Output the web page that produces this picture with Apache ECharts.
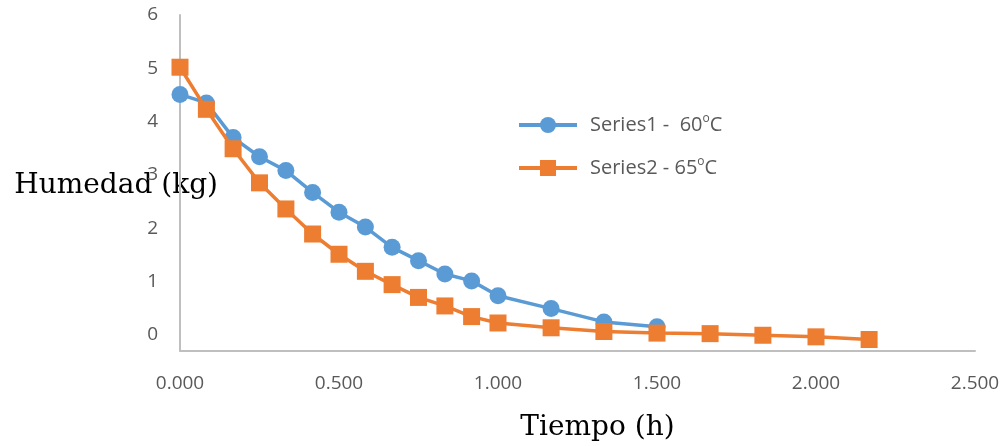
<!DOCTYPE html>
<html>
<head>
<meta charset="utf-8">
<script src="https://cdn.jsdelivr.net/npm/echarts@6/dist/echarts.min.js"></script>
<style>
html,body{margin:0;padding:0;background:#fff;}
#chart{width:1004px;height:446px;}
</style>
</head>
<body>
<div id="chart"></div>
<script>
// Data
const time60 = [0, 0.083, 0.167, 0.25, 0.333, 0.417, 0.5, 0.583, 0.667, 0.75, 0.833, 0.917, 1.0, 1.167, 1.333, 1.5];
const hum60  = [4.51, 4.35, 3.70, 3.34, 3.08, 2.67, 2.30, 2.02, 1.64, 1.39, 1.14, 1.01, 0.73, 0.49, 0.24, 0.15];
const time65 = [0, 0.083, 0.167, 0.25, 0.333, 0.417, 0.5, 0.583, 0.667, 0.75, 0.833, 0.917, 1.0, 1.167, 1.333, 1.5, 1.667, 1.833, 2.0, 2.167];
const hum65  = [5.02, 4.23, 3.49, 2.85, 2.36, 1.89, 1.51, 1.19, 0.94, 0.70, 0.54, 0.34, 0.22, 0.13, 0.06, 0.03, 0.02, -0.01, -0.04, -0.09];
const seriesNames = ['Series1 -  60oC', 'Series2 - 65oC'];
const yTickValues = [0, 1, 2, 3, 4, 5, 6];
const xTitle = 'Tiempo (h)';
const yTitle = 'Humedad (kg)';

const zip = (xs, ys) => xs.map((x, i) => [x, ys[i]]);

const chart = echarts.init(document.getElementById('chart'), null, {renderer: 'canvas'});
const axisLineStyle = {color: '#BFBFBF', width: 2};
chart.setOption({
  animation: false,
  grid: {left: 180, right: 29, top: 15, bottom: 95.3, containLabel: false, outerBoundsMode: 'none'},
  legend: {
    orient: 'vertical',
    left: 512,
    top: 108,
    itemWidth: 58,
    itemHeight: 20,
    itemGap: 21,
    lineStyle: {width: 4},
    formatter: function (name) {
      const base = name.slice(0, -2);
      return '{n|' + base + '}{s|o}{n|C}';
    },
    textStyle: {
      padding: [0, 0, 0, 8],
      rich: {
        n: {fontFamily: 'Open Sans', fontSize: 20, color: '#595959', lineHeight: 24, verticalAlign: 'middle'},
        s: {fontFamily: 'Open Sans', fontSize: 12, color: '#595959', lineHeight: 24, verticalAlign: 'top', padding: [0, 0, 6, 0]}
      }
    },
    data: seriesNames
  },
  xAxis: {
    type: 'value',
    min: 0, max: 2.5, interval: 0.5,
    name: xTitle,
    nameLocation: 'middle',
    nameGap: 63,
    nameTextStyle: {fontFamily: 'DejaVu Serif', fontSize: 28, color: '#000', padding: [0, 0, 0, 40]},
    axisLine: {show: true, onZero: false, lineStyle: axisLineStyle},
    axisTick: {show: false},
    splitLine: {show: false},
    axisLabel: {
      margin: 23,
      fontFamily: 'Open Sans', fontSize: 19, color: '#595959',
      formatter: v => v.toFixed(3)
    }
  },
  yAxis: {
    type: 'value',
    min: -0.3, max: 6,
    name: yTitle,
    nameLocation: 'middle',
    nameRotate: 0,
    nameGap: -38,
    nameMoveOverlap: false,
    nameTextStyle: {fontFamily: 'DejaVu Serif', fontSize: 28, color: '#000', verticalAlign: 'top', lineHeight: 6},
    axisLine: {show: true, onZero: false, lineStyle: axisLineStyle},
    axisTick: {show: false},
    splitLine: {show: false},
    axisLabel: {
      customValues: yTickValues,
      margin: 22,
      fontFamily: 'Open Sans', fontSize: 19, color: '#595959'
    }
  },
  series: [
    {
      name: seriesNames[0],
      type: 'line',
      data: zip(time60, hum60),
      symbol: 'circle',
      symbolSize: 17,
      lineStyle: {color: '#5B9BD5', width: 3.5},
      itemStyle: {color: '#5B9BD5'},
      z: 2
    },
    {
      name: seriesNames[1],
      type: 'line',
      data: zip(time65, hum65),
      symbol: 'rect',
      symbolSize: 17,
      lineStyle: {color: '#ED7D31', width: 3.5},
      itemStyle: {color: '#ED7D31'},
      z: 3
    }
  ]
});
</script>
</body>
</html>
